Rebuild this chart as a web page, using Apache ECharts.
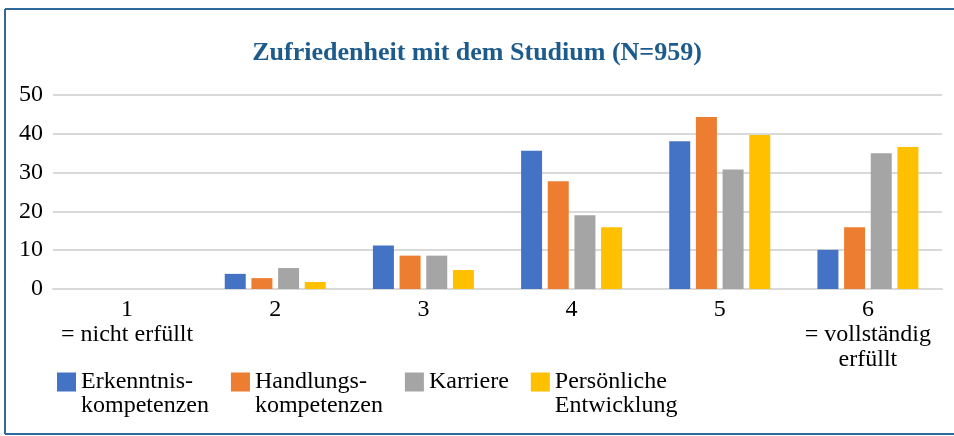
<!DOCTYPE html>
<html>
<head>
<meta charset="utf-8">
<script src="https://cdn.jsdelivr.net/npm/echarts@6/dist/echarts.min.js"></script>
<style>
  html, body { margin: 0; padding: 0; background: #fff; }
  #main { width: 954px; height: 436px; }
</style>
</head>
<body>
<div id="main"></div>
<script>
// Kategorien (x-Achse)
const categories = ['1\n= nicht erfüllt', '2', '3', '4', '5', '6\n= vollständig\nerfüllt']
// Serien
const seriesNames = ['Erkenntnis-\nkompetenzen', 'Handlungs-\nkompetenzen', 'Karriere', 'Persönliche\nEntwicklung']
const erkenntnis = [0, 3.9, 11.2, 35.6, 38.1, 10.1]
const handlung = [0, 2.8, 8.6, 27.8, 44.3, 15.9]
const karriere = [0, 5.4, 8.6, 19.0, 30.8, 35.0]
const persoenlich = [0, 1.8, 4.9, 15.9, 39.7, 36.6]
const yTicks = [0, 10, 20, 30, 40, 50]

const colors = ['#4472C4', '#ED7D31', '#A5A5A5', '#FFC000']
const font = '"Liberation Serif", "DejaVu Serif", serif'

var chartDom = document.getElementById('main');
var myChart = echarts.init(chartDom);
var option;

const values = [erkenntnis, handlung, karriere, persoenlich]

option = {
  color: colors,
  //标题
  title: {
    text: 'Zufriedenheit mit dem Studium (N=959)',
    left: 'center',
    top: 40,
    padding: 0,
    textStyle: {
      fontFamily: font,
      fontSize: 26,
      fontWeight: 'bold',
      color: '#1D5B8D'
    }
  },
  grid: {
    left: 53,
    right: 12,
    top: 95,
    bottom: 147
  },
  legend: {
    left: 57,
    top: 370,
    padding: 0,
    itemGap: 22,
    itemWidth: 19,
    itemHeight: 48,
    // Quadrat oben, damit es neben der ersten Zeile steht
    icon: 'path://M0,0h0.01v0.01h-0.01z M0,2.5h19v19h-19z M0,47.99h0.01v0.01h-0.01z',
    formatter: name => name === 'Karriere' ? 'Karriere\n ' : name,
    textStyle: {
      fontFamily: font,
      fontSize: 24,
      lineHeight: 24,
      color: '#000'
    }
  },
  xAxis: {
    type: 'category',
    data: categories,
    axisLine: { lineStyle: { color: '#d9d9d9', width: 2 } },
    axisTick: { show: false },
    axisLabel: {
      interval: 0,
      margin: 8,
      fontFamily: font,
      fontSize: 24,
      lineHeight: 25,
      color: '#000'
    }
  },
  yAxis: {
    type: 'value',
    min: yTicks[0],
    max: yTicks[yTicks.length - 1],
    interval: yTicks[1] - yTicks[0],
    axisLine: { show: false },
    axisTick: { show: false },
    axisLabel: {
      margin: 10,
      fontFamily: font,
      fontSize: 24,
      color: '#000'
    },
    splitLine: { lineStyle: { color: '#d9d9d9', width: 2 } }
  },
  //边框
  graphic: [
    { type: 'line', shape: { x1: 5, y1: 9, x2: 954, y2: 9 }, style: { stroke: '#2F6A9B', lineWidth: 2 } },
    { type: 'line', shape: { x1: 5, y1: 9, x2: 5, y2: 434 }, style: { stroke: '#2F6A9B', lineWidth: 2 } },
    { type: 'line', shape: { x1: 5, y1: 434, x2: 954, y2: 434 }, style: { stroke: '#2F6A9B', lineWidth: 2 } }
  ],
  series: seriesNames.map((name, i) => ({
    name: name,
    type: 'bar',
    barWidth: 21,
    barGap: '27%',
    data: values[i]
  }))
};

option && myChart.setOption(option);
</script>
</body>
</html>
